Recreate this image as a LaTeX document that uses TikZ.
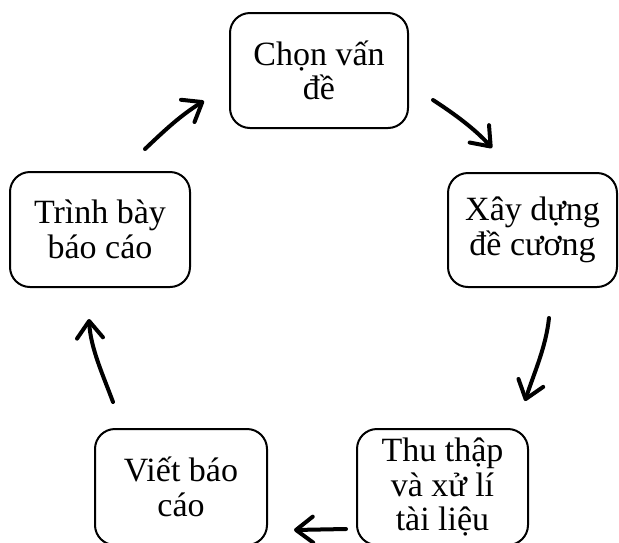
\documentclass[tikz,border=0pt]{standalone}
\usepackage{fontspec}
\setmainfont{Liberation Serif}
\usetikzlibrary{arrows.meta}

\tikzset{
  stage/.style={draw=black, line width=2pt, rounded corners=20pt,
    align=center, inner sep=0pt,
    font=\fontsize{34}{34.5}\selectfont},
  flow/.style={line width=4pt, line cap=round,
    -{Straight Barb[length=17pt,width=26pt,line cap=round,line join=round]}}
}

\begin{document}
\begin{tikzpicture}[x=1pt,y=-1pt]
  \useasboundingbox (0,0) rectangle (619,542);
  \clip (0,0) rectangle (619,542);

  % stages of the research cycle
  \node[stage, minimum width=178pt, minimum height=115pt] (A) at (319,70.5) {Chọn vấn\\đề};
  \node[stage, minimum width=169pt, minimum height=114pt] (B) at (532.5,230) {Xây dựng\\đề cương};
  \node[stage, minimum width=171pt, minimum height=116pt] (C) at (442.5,487) {Thu thập\\và xử lí\\tài liệu};
  \node[stage, minimum width=172pt, minimum height=116pt] (D) at (181,487) {Viết báo\\cáo};
  \node[stage, minimum width=180pt, minimum height=115pt] (E) at (100,229.5) {Trình bày\\báo cáo};

  % curved arrows between consecutive stages
  \draw[flow] ([shift={(24,29.5)}]A.east)
     .. controls (454,113.6) and (475,129) .. ([shift={(-40.5,-24)}]B.north);
  \draw[flow] ([shift={(16.5,30)}]B.south)
     .. controls (546,347) and (534,373) .. ([shift={(82.5,-27)}]C.north);
  \draw[flow] ([shift={(-10,42)}]C.west) -- ([shift={(26,43)}]D.east);
  \draw[flow] ([shift={(-68,-26)}]D.north)
     .. controls (103,375) and (90.5,348) .. ([shift={(-11,31)}]E.south);
  \draw[flow] ([shift={(45,-22)}]E.north)
     .. controls (165,130) and (181,115) .. ([shift={(-25,30.5)}]A.west);
\end{tikzpicture}
\end{document}
